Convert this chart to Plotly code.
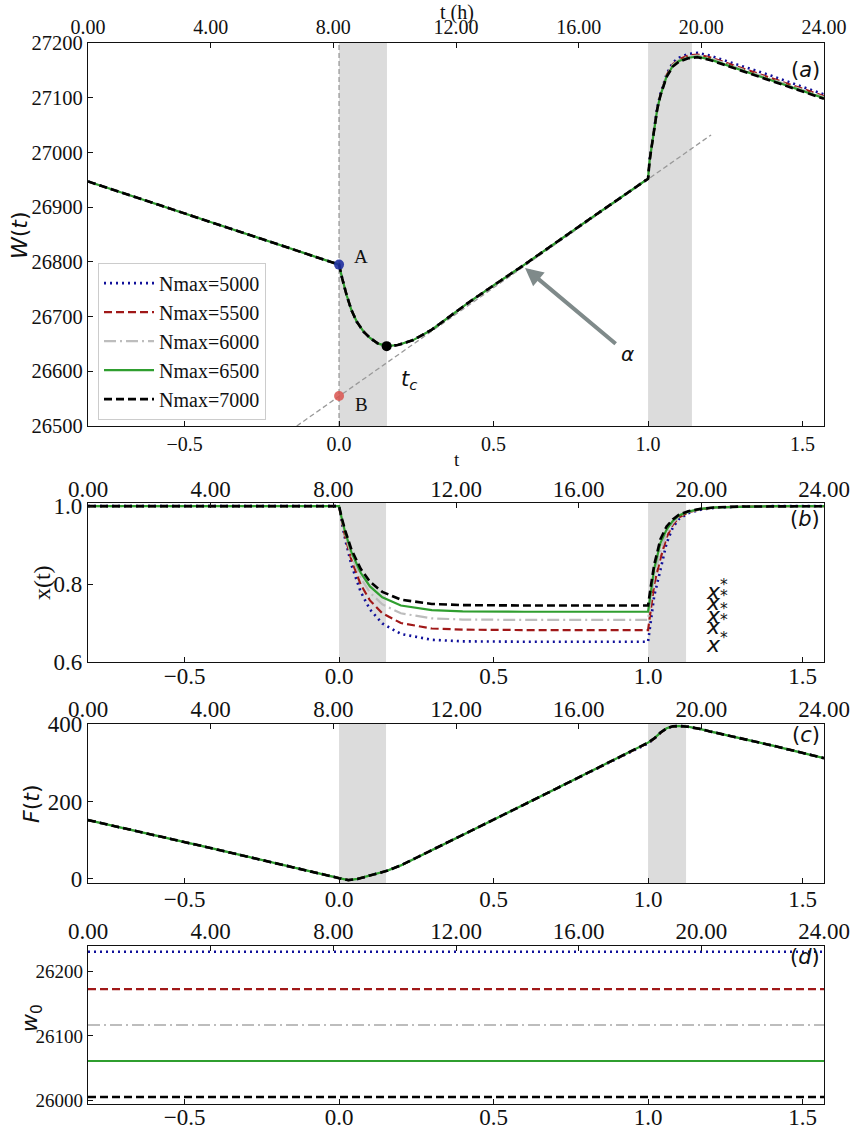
import plotly.graph_objects as go

# ---------------- data ----------------
T_RANGE = [-0.8125, 1.5694]
HOURS = [0, 4, 8, 12, 16, 20, 24]
T_TICKS = [-0.5, 0.0, 0.5, 1.0, 1.5]

NAMES = ["Nmax=5000", "Nmax=5500", "Nmax=6000", "Nmax=6500", "Nmax=7000"]

# panel (a): W(t)
TA = [-0.8125, 0.0, 0.01, 0.025, 0.04, 0.057, 0.08, 0.1, 0.125, 0.154, 0.19, 0.24,
      0.3, 0.35, 0.42, 0.5, 0.6, 0.8, 1.0, 1.005, 1.017, 1.03, 1.04, 1.06, 1.08,
      1.1, 1.13, 1.16, 1.2, 1.3, 1.4, 1.5694]
W_5000 = [26947, 26795, 26770, 26738, 26712, 26691, 26672, 26661, 26651, 26646, 26648, 26657,
          26676, 26697, 26726, 26757, 26795, 26874, 26952, 26986, 27037, 27083, 27107, 27143, 27164,
          27173, 27180, 27182, 27177, 27159, 27140, 27106]
W_5500 = [26947, 26795, 26770, 26738, 26712, 26691, 26672, 26661, 26651, 26646, 26648, 26657,
          26676, 26697, 26726, 26757, 26795, 26874, 26952, 26985, 27036, 27081, 27105, 27141, 27161,
          27170, 27177, 27179, 27174, 27155, 27136, 27103]
W_6000 = [26947, 26795, 26770, 26738, 26712, 26691, 26672, 26661, 26651, 26646, 26648, 26657,
          26676, 26697, 26726, 26757, 26795, 26874, 26952, 26985, 27035, 27080, 27104, 27140, 27160,
          27169, 27175, 27177, 27172, 27153, 27134, 27101]
W_6500 = [26947, 26795, 26770, 26738, 26712, 26691, 26672, 26661, 26651, 26646, 26648, 26657,
          26676, 26697, 26726, 26757, 26795, 26874, 26952, 26985, 27035, 27080, 27104, 27139, 27158,
          27167, 27173, 27175, 27170, 27151, 27132, 27099]
W_7000 = [26947, 26795, 26770, 26738, 26712, 26691, 26672, 26661, 26651, 26646, 26648, 26657,
          26676, 26697, 26726, 26757, 26795, 26874, 26952, 26985, 27035, 27080, 27104, 27138, 27157,
          27166, 27172, 27174, 27169, 27150, 27131, 27098]

TAN_T = [-0.137, 1.204]
TAN_W = [26500, 27032]
POINT_A = (0.0, 26795)
POINT_B = (0.0, 26555)
POINT_TC = (0.154, 26646)
ARROW_HEAD = (0.602, 26789)
ARROW_TAIL = (0.9, 26648)

# panel (b): x(t)
TB = [-0.8125, 0.0, 0.01, 0.02, 0.04, 0.07, 0.1, 0.14, 0.2, 0.3, 0.4, 0.6, 1.0,
      1.005, 1.01, 1.02, 1.04, 1.06, 1.08, 1.1, 1.13, 1.17, 1.22, 1.3, 1.4, 1.5694]
X_5000 = [1.0, 1.0, 0.954, 0.914, 0.849, 0.780, 0.735, 0.699, 0.672, 0.657, 0.653, 0.652, 0.652,
          0.68, 0.715, 0.77, 0.836, 0.905, 0.945, 0.967, 0.982, 0.991, 0.996, 0.999, 1.0, 1.0]
X_5500 = [1.0, 1.0, 0.958, 0.921, 0.862, 0.799, 0.758, 0.725, 0.700, 0.686, 0.683, 0.682, 0.682,
          0.71, 0.745, 0.80, 0.865, 0.92, 0.952, 0.971, 0.984, 0.992, 0.997, 0.999, 1.0, 1.0]
X_6000 = [1.0, 1.0, 0.961, 0.927, 0.873, 0.816, 0.778, 0.748, 0.725, 0.712, 0.709, 0.708, 0.708,
          0.74, 0.77, 0.82, 0.885, 0.93, 0.957, 0.974, 0.985, 0.993, 0.997, 0.999, 1.0, 1.0]
X_6500 = [1.0, 1.0, 0.964, 0.933, 0.882, 0.829, 0.794, 0.766, 0.745, 0.733, 0.730, 0.729, 0.729,
          0.76, 0.79, 0.84, 0.905, 0.94, 0.962, 0.976, 0.986, 0.993, 0.997, 0.999, 1.0, 1.0]
X_7000 = [1.0, 1.0, 0.966, 0.937, 0.889, 0.839, 0.806, 0.780, 0.760, 0.749, 0.746, 0.745, 0.745,
          0.775, 0.80, 0.85, 0.915, 0.948, 0.966, 0.978, 0.987, 0.993, 0.997, 0.999, 1.0, 1.0]
XSTAR_T = [1.222, 1.222, 1.222, 1.222, 1.222]
XSTAR_Y = [0.785, 0.757, 0.723, 0.695, 0.649]

# panel (c): F(t)
TC = [-0.8125, -0.4, 0.0, 0.015, 0.03, 0.06, 0.1, 0.155, 0.2, 0.3, 0.5, 0.7, 0.9, 1.0,
      1.02, 1.04, 1.06, 1.08, 1.1, 1.13, 1.17, 1.2, 1.3, 1.4, 1.5694]
F_5000 = [152, 77, 2, -1, -3, 0, 8, 21, 35, 75, 153, 232, 312, 350,
          362, 377, 389, 394, 395, 393, 387, 381, 363, 345, 312]
F_5500 = [152, 77, 2, -1, -3, 0, 8, 21, 35, 75, 153, 232, 312, 351,
          362, 377, 389, 394, 395, 393, 387, 381, 363, 345, 312]
F_6000 = [152, 77, 2, -1, -3, 0, 8, 21, 35, 75, 153, 232, 312, 352,
          363, 378, 389, 394, 395, 393, 387, 381, 363, 345, 312]
F_6500 = [152, 77, 2, -1, -3, 0, 8, 21, 35, 75, 153, 232, 312, 352,
          363, 378, 389, 394, 395, 393, 387, 381, 363, 345, 312]
F_7000 = [152, 77, 2, -1, -3, 0, 8, 21, 35, 75, 153, 232, 312, 352,
          363, 378, 389, 394, 395, 393, 387, 381, 363, 345, 312]

# panel (d): w0
W0 = [26231, 26173, 26117, 26061, 26005]

# shaded intervals
SHADE_A = [(0.0, 0.155), (1.0, 1.142)]
SHADE_BC = [(0.0, 0.152), (1.0, 1.123)]

# ---------------- style ----------------
COLORS = ["#10109a", "#a01818", "#bdbdbd", "#2f9e2f", "#000000"]
DASHES = ["2px,4px", "8px,4px", "12px,4px,2px,4px", "solid", "8px,4px"]
WIDTHS = [2.6, 2.2, 2.2, 2.2, 2.6]
SERIF = "Liberation Serif, Times New Roman, serif"
SANS = "DejaVu Sans, sans-serif"

W_SERIES = [W_5000, W_5500, W_6000, W_6500, W_7000]
X_SERIES = [X_5000, X_5500, X_6000, X_6500, X_7000]
F_SERIES = [F_5000, F_5500, F_6000, F_6500, F_7000]

fig = go.Figure()

# tangent line (a)
fig.add_trace(go.Scatter(x=TAN_T, y=TAN_W, mode="lines", xaxis="x", yaxis="y",
                         line=dict(color="#999999", width=1.3, dash="5px,3px"),
                         showlegend=False, hoverinfo="skip"))

for i in range(5):
    ln = dict(color=COLORS[i], width=WIDTHS[i], dash=DASHES[i])
    fig.add_trace(go.Scatter(x=TA, y=W_SERIES[i], mode="lines", name=NAMES[i],
                             xaxis="x", yaxis="y", line=ln, showlegend=True))
    fig.add_trace(go.Scatter(x=TB, y=X_SERIES[i], mode="lines", name=NAMES[i],
                             xaxis="x2", yaxis="y2", line=ln, showlegend=False))
    fig.add_trace(go.Scatter(x=TC, y=F_SERIES[i], mode="lines", name=NAMES[i],
                             xaxis="x3", yaxis="y3", line=ln, showlegend=False))
    fig.add_trace(go.Scatter(x=T_RANGE, y=[W0[i], W0[i]], mode="lines", name=NAMES[i],
                             xaxis="x4", yaxis="y4", line=ln, showlegend=False))

# points A, B, t_c
fig.add_trace(go.Scatter(x=[POINT_A[0]], y=[POINT_A[1]], mode="markers", xaxis="x", yaxis="y",
                         marker=dict(color="#1f2fa0", size=10, opacity=0.9), showlegend=False))
fig.add_trace(go.Scatter(x=[POINT_B[0]], y=[POINT_B[1]], mode="markers", xaxis="x", yaxis="y",
                         marker=dict(color="#d9534f", size=10, opacity=0.85), showlegend=False))
fig.add_trace(go.Scatter(x=[POINT_TC[0]], y=[POINT_TC[1]], mode="markers", xaxis="x", yaxis="y",
                         marker=dict(color="#000000", size=10), showlegend=False))

# dummy traces for top hour axes
for k, ya in zip([5, 6, 7, 8], ["y", "y2", "y3", "y4"]):
    fig.add_trace(go.Scatter(x=[HOURS[0], HOURS[-1]], y=[None, None], mode="lines",
                             xaxis="x%d" % k, yaxis=ya, showlegend=False, hoverinfo="skip"))

# ---------------- layout ----------------
DOM = {1: [0.639, 1.0], 2: [0.4166, 0.5664], 3: [0.2083, 0.3581], 4: [0.0, 0.1489]}
YR = {1: [26500, 27200], 2: [0.6, 1.008], 3: [-10.5, 400], 4: [25994, 26240]}
YT = {1: list(range(26500, 27201, 100)), 2: [0.6, 0.8, 1.0], 3: [0, 200, 400], 4: [26000, 26100, 26200]}
YTF = {1: "d", 2: ".1f", 3: "d", 4: "d"}
XFS = {1: 20, 2: 23, 3: 23, 4: 23}
YFS = {1: 20.5, 2: 23, 3: 23, 4: 19}
BOT_STANDOFF = {1: 0, 2: -7, 3: -5, 4: -8}
TOP_STANDOFF = {1: 0, 2: -4, 3: -3, 4: -3}

axcommon = dict(showgrid=False, zeroline=False, showline=True, linecolor="#111111",
                linewidth=1.4, ticks="inside", ticklen=5, tickcolor="#111111", tickwidth=1,
                automargin=False)

lay = {}
for k in range(1, 5):
    xs = "" if k == 1 else str(k)
    lay["xaxis" + xs] = dict(axcommon, domain=[0, 1], anchor="y" + xs, range=T_RANGE,
                             tickvals=T_TICKS, tickformat=".1f",
                             ticklabelstandoff=BOT_STANDOFF[k],
                             tickfont=dict(family=SERIF, size=XFS[k], color="#111111"))
    lay["yaxis" + xs] = dict(axcommon, domain=DOM[k], anchor="x" + xs, range=YR[k],
                             tickvals=YT[k], tickformat=YTF[k], mirror=True,
                             tickfont=dict(family=SERIF, size=YFS[k], color="#111111"))
    lay["xaxis%d" % (k + 4)] = dict(axcommon, overlaying="x" + xs, anchor="y" + xs, side="top",
                                    range=[HOURS[0], HOURS[-1]], tickvals=HOURS, tickformat=".2f",
                                    ticklabelstandoff=TOP_STANDOFF[k],
                                    tickfont=dict(family=SERIF, size=XFS[k], color="#111111"))

shapes = []
for (a, b) in SHADE_A:
    shapes.append(dict(type="rect", xref="x", yref="y domain", x0=a, x1=b, y0=0, y1=1,
                       fillcolor="#dcdcdc", line=dict(width=0), layer="below"))
for xs in ["x2", "x3"]:
    ys = "y" + xs[1:]
    for (a, b) in SHADE_BC:
        shapes.append(dict(type="rect", xref=xs, yref=ys + " domain", x0=a, x1=b, y0=0, y1=1,
                           fillcolor="#dcdcdc", line=dict(width=0), layer="below"))
shapes.append(dict(type="line", xref="x", yref="y domain", x0=0, x1=0, y0=0, y1=1,
                   line=dict(color="#999999", width=1.3, dash="5px,3px"), layer="below"))

ann = []
# axis titles
ann.append(dict(text="<i>W</i>(<i>t</i>)", xref="paper", yref="paper", x=-0.0938, y=0.819,
                textangle=-90, showarrow=False, font=dict(family=SANS, size=22, color="#111111"),
                xanchor="center", yanchor="middle"))
ann.append(dict(text="x(t)", xref="paper", yref="paper", x=-0.0625, y=0.491,
                textangle=-90, showarrow=False, font=dict(family=SERIF, size=24, color="#111111"),
                xanchor="center", yanchor="middle"))
ann.append(dict(text="<i>F</i>(<i>t</i>)", xref="paper", yref="paper", x=-0.0761, y=0.2828,
                textangle=-90, showarrow=False, font=dict(family=SANS, size=22, color="#111111"),
                xanchor="center", yanchor="middle"))
ann.append(dict(text="<i>w</i><sub>0</sub>", xref="paper", yref="paper", x=-0.0761, y=0.0811,
                textangle=-90, showarrow=False, font=dict(family=SANS, size=22, color="#111111"),
                xanchor="center", yanchor="middle"))
ann.append(dict(text="t (h)", xref="paper", yref="paper", x=0.5014, y=1.0292, showarrow=False,
                font=dict(family=SERIF, size=20, color="#111111"), xanchor="center", yanchor="middle"))
ann.append(dict(text="t", xref="paper", yref="paper", x=0.5014, y=0.6079, showarrow=False,
                font=dict(family=SERIF, size=19, color="#111111"), xanchor="center", yanchor="middle"))
# panel labels
for lab, yy in zip(["a", "b", "c", "d"], [0.9746, 0.5514, 0.3478, 0.1385]):
    ann.append(dict(text="(<i>%s</i>)" % lab, xref="paper", yref="paper", x=0.9973, y=yy,
                    showarrow=False, font=dict(family=SANS, size=21, color="#111111"),
                    xanchor="right", yanchor="middle"))
# point labels
ann.append(dict(text="A", xref="x", yref="y", x=0.071, y=26809, showarrow=False,
                font=dict(family=SERIF, size=19, color="#111111")))
ann.append(dict(text="B", xref="x", yref="y", x=0.071, y=26540, showarrow=False,
                font=dict(family=SERIF, size=19, color="#111111")))
ann.append(dict(text="<i>t<sub>c</sub></i>", xref="x", yref="y", x=0.227, y=26585, showarrow=False,
                font=dict(family=SANS, size=21, color="#111111")))
ann.append(dict(text="<i>α</i>", xref="x", yref="y", x=0.932, y=26632, showarrow=False,
                font=dict(family=SANS, size=20, color="#111111")))
ann.append(dict(text="", xref="x", yref="y", axref="x", ayref="y",
                x=ARROW_HEAD[0], y=ARROW_HEAD[1], ax=ARROW_TAIL[0], ay=ARROW_TAIL[1],
                showarrow=True, arrowhead=2, arrowsize=0.9, arrowwidth=4, arrowcolor="#7f8a8a"))
for t, v in zip(XSTAR_T, XSTAR_Y):
    ann.append(dict(text="<i>x</i><sup>*</sup>", xref="x2", yref="y2", x=t, y=v, showarrow=False,
                    font=dict(family=SANS, size=22, color="#111111")))

fig.update_layout(
    width=851, height=1131,
    margin=dict(l=88, r=27, t=43, b=27),
    paper_bgcolor="white", plot_bgcolor="white",
    shapes=shapes, annotations=ann,
    legend=dict(x=0.0136, y=0.793, xanchor="left", yanchor="top",
                bgcolor="white", bordercolor="#cccccc", borderwidth=1,
                font=dict(family=SERIF, size=20, color="#111111"), itemwidth=50,
                tracegroupgap=0),
    **lay
)

fig.write_html("out.html")
